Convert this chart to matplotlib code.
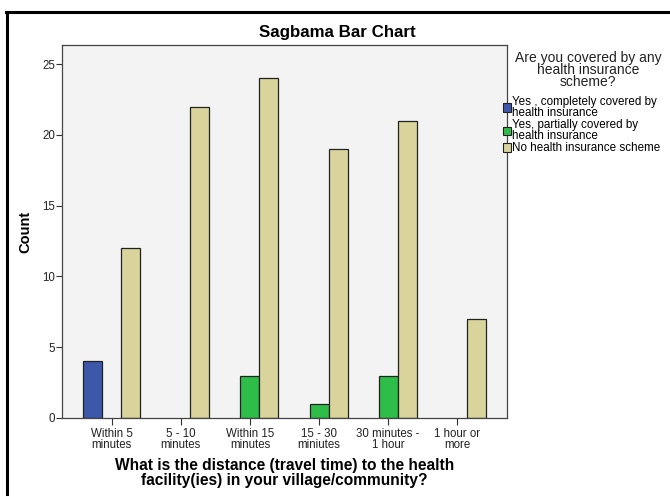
import numpy as np
import matplotlib
matplotlib.use('Agg')
import matplotlib.pyplot as plt
from matplotlib.lines import Line2D

plt.rcParams['font.family'] = ['Liberation Sans', 'DejaVu Sans']

categories = ['Within 5\nminutes', '5 - 10\nminutes', 'Within 15\nminutes',
              '15 - 30\nminiutes', '30 minutes -\n1 hour', '1 hour or\nmore']
series_names = ['Yes , completely covered by\nhealth insurance',
                'Yes, partially covered by\nhealth insurance',
                'No health insurance scheme']
completely = [4, 0, 0, 0, 0, 0]
partially = [0, 0, 3, 1, 3, 0]
no_scheme = [12, 22, 24, 19, 21, 7]
colors = ['#3d57ab', '#2fbd4a', '#d8d49c']

fig = plt.figure(figsize=(6.7, 4.97), dpi=100)
W, H = 670.0, 497.0
ax = fig.add_axes([62 / W, 1 - 418 / H, (507 - 62) / W, (418 - 45) / H])
ax.set_facecolor('#f3f3f3')

x = np.arange(len(categories))
width = 0.275
for i, (vals, c, name) in enumerate(zip([completely, partially, no_scheme], colors, series_names)):
    v = np.array(vals, dtype=float)
    mask = v > 0
    ax.bar(x[mask] + (i - 1) * width, v[mask], width=width, color=c,
           edgecolor='#222222', linewidth=0.9, label=name)

ax.set_xlim(-0.72, 5.72)
ax.set_ylim(0, 26.35)
ax.set_yticks([0, 5, 10, 15, 20, 25])
ax.set_xticks(x)
ax.set_xticklabels(categories, fontsize=8.3, linespacing=0.95)
ax.tick_params(axis='y', labelsize=8.3, length=4, width=0.8, pad=1, colors='#333333')
ax.tick_params(axis='x', length=5, width=0.8, pad=2, colors='#333333')
for lab in ax.get_xticklabels() + ax.get_yticklabels():
    lab.set_color('#222222')
for s in ax.spines.values():
    s.set_color('#444444')
    s.set_linewidth(0.9)

ax.set_ylabel('Count', fontsize=10.5, fontweight='bold', labelpad=7)
ax.set_xlabel('What is the distance (travel time) to the health\nfacility(ies) in your village/community?',
              fontsize=11.2, fontweight='bold', linespacing=0.95, labelpad=5)
fig.text(337 / W, 1 - 33 / H, 'Sagbama Bar Chart', ha='center', va='center',
         fontsize=12.2, fontweight='bold')

# legend
fig.text(588 / W, 1 - 70 / H, 'Are you covered by any\nhealth insurance\nscheme?',
         ha='center', va='center', fontsize=10, linespacing=0.85, color='#222222')
handles = [plt.Rectangle((0, 0), 1, 1, facecolor=c, edgecolor='#222222', linewidth=0.8) for c in colors]
leg = fig.legend(handles, series_names, loc='upper left', bbox_to_anchor=(503 / W, 1 - 96 / H),
                 frameon=False, fontsize=8.4, handlelength=0.65, handleheight=0.8,
                 handletextpad=0.15, labelspacing=0.05, borderaxespad=0, borderpad=0)
plt.setp(leg.get_texts(), linespacing=0.85)

# outer frame
fig.add_artist(Line2D([7 / W, 7 / W], [1 - 12 / H, 1 - 494 / H], transform=fig.transFigure,
                      color='black', linewidth=2.2))
fig.add_artist(Line2D([6 / W, 1.0], [1 - 12 / H, 1 - 12 / H], transform=fig.transFigure,
                      color='black', linewidth=2.2))

fig.savefig('out.png', dpi=100)
